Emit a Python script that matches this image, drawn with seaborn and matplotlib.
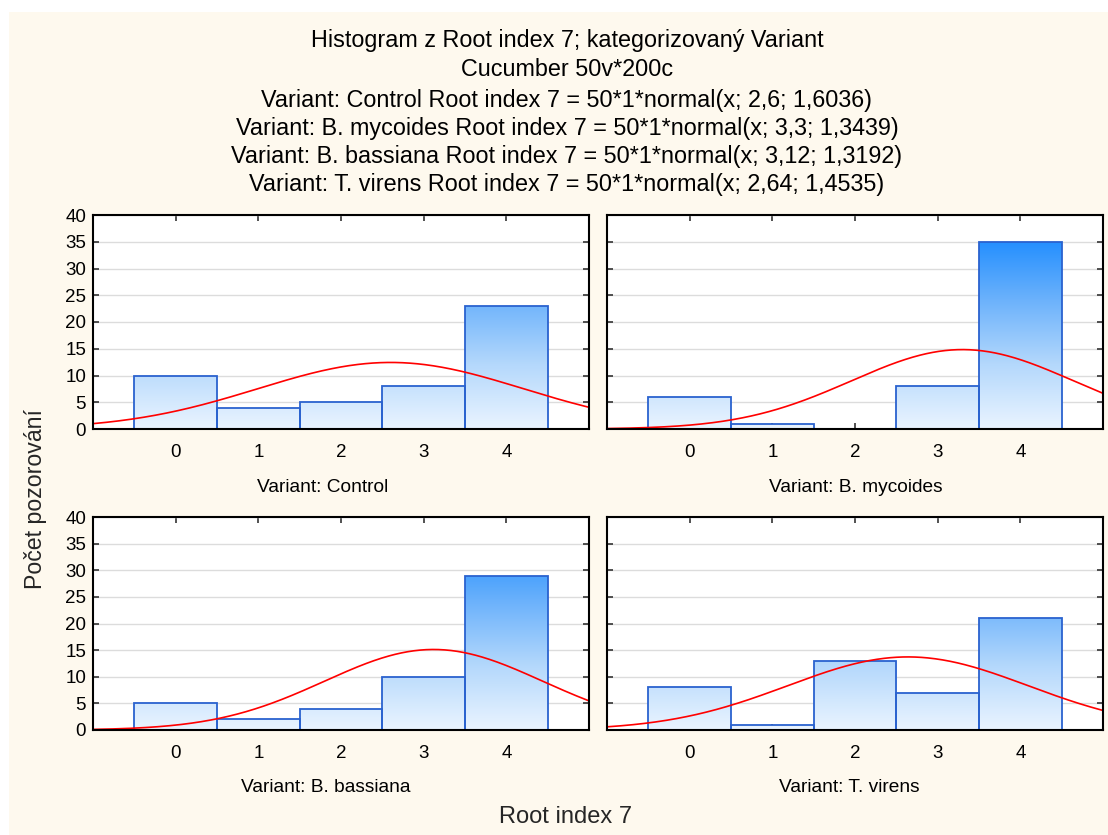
import numpy as np
import pandas as pd
import matplotlib
matplotlib.use("Agg")
import matplotlib.pyplot as plt
from matplotlib.colors import LinearSegmentedColormap, Normalize
from matplotlib.patches import Rectangle
import seaborn as sns

# --- data -------------------------------------------------------------
variants = ["Control", "B. mycoides", "B. bassiana", "T. virens"]
root_index = [0, 1, 2, 3, 4]
counts_control = [10, 4, 5, 8, 23]
counts_mycoides = [6, 1, 0, 8, 35]
counts_bassiana = [5, 2, 4, 10, 29]
counts_virens = [8, 1, 13, 7, 21]
fit_mean = [2.6, 3.3, 3.12, 2.64]
fit_sd = [1.6036, 1.3439, 1.3192, 1.4535]
fit_n = 50
y_ticks = [0, 5, 10, 15, 20, 25, 30, 35, 40]

title_lines = [
    "Histogram z Root index 7; kategorizovaný Variant",
    "Cucumber 50v*200c",
    "Variant: Control Root index 7 = 50*1*normal(x; 2,6; 1,6036)",
    "Variant: B. mycoides Root index 7 = 50*1*normal(x; 3,3; 1,3439)",
    "Variant: B. bassiana Root index 7 = 50*1*normal(x; 3,12; 1,3192)",
    "Variant: T. virens Root index 7 = 50*1*normal(x; 2,64; 1,4535)",
]

all_counts = [counts_control, counts_mycoides, counts_bassiana, counts_virens]
df = pd.DataFrame(
    [(v, r, c) for v, cs in zip(variants, all_counts) for r, c in zip(root_index, cs)],
    columns=["Variant", "Root index 7", "count"],
)

# --- style ------------------------------------------------------------
sns.set_theme(style="white")
plt.rcParams["font.family"] = ["Liberation Sans", "DejaVu Sans"]

W, H = 1108, 835
fig = plt.figure(figsize=(W / 100, H / 100), dpi=100)
fig.patch.set_facecolor("white")
fig.patches.append(Rectangle((9 / W, 0), 1 - 9 / W, 1 - 12 / H,
                             transform=fig.transFigure, facecolor="#fef9ee",
                             edgecolor="none", zorder=-10))

def px_box(l, r, t, b):
    return [l / W, 1 - b / H, (r - l) / W, (b - t) / H]

boxes = [
    px_box(93, 589, 215, 429),
    px_box(607, 1103, 215, 429),
    px_box(93, 589, 517, 730),
    px_box(607, 1103, 517, 730),
]
label_pos = [(323, 488), (856, 488), (326, 788), (849, 788)]

cmap = LinearSegmentedColormap.from_list("bar_grad", ["#eaf4ff", "#b4d8fc", "#6cb2fb", "#1e8cff"])
norm = Normalize(vmin=0, vmax=36)
edge = "#2a62cf"

xs = np.linspace(-1, 5, 400)

for i, (var, box) in enumerate(zip(variants, boxes)):
    ax = fig.add_axes(box)
    ax.set_facecolor("white")
    sub = df[df["Variant"] == var]
    sns.histplot(data=sub, x="Root index 7", weights="count", discrete=True,
                 fill=False, color=edge, linewidth=1.3, ax=ax, zorder=3)
    # vertical gradient fill inside every bar
    grad = np.linspace(0, 40, 400).reshape(-1, 1)
    for p in ax.patches:
        x0 = p.get_x()
        w = p.get_width()
        h = p.get_height()
        if h <= 0:
            continue
        im = ax.imshow(grad, extent=(x0, x0 + w, 0, 40), origin="lower",
                       aspect="auto", cmap=cmap, norm=norm, zorder=2,
                       interpolation="bilinear")
        im.set_clip_path(p)
    # fitted normal curve
    pdf = fit_n * np.exp(-0.5 * ((xs - fit_mean[i]) / fit_sd[i]) ** 2) / (fit_sd[i] * np.sqrt(2 * np.pi))
    sns.lineplot(x=xs, y=pdf, color="red", linewidth=1.2, ax=ax, zorder=4)

    ax.set_xlim(-1, 5)
    ax.set_ylim(0, 40)
    ax.set_xticks(root_index)
    ax.set_yticks(y_ticks)
    ax.set_xlabel("")
    ax.set_ylabel("")
    ax.yaxis.grid(True, color="#dcdcdc", linewidth=1.0, zorder=0)
    ax.set_axisbelow(True)
    ax.tick_params(direction="in", length=4, width=1.2, color="#333333",
                   top=True, right=True, bottom=True, left=True,
                   labelsize=13.5, labelcolor="black", pad=11)
    ax.tick_params(axis="y", pad=5)
    if i % 2 == 1:
        ax.tick_params(axis="y", labelleft=False)
    for s in ax.spines.values():
        s.set_visible(True)
        s.set_color("black")
        s.set_linewidth(1.5)
        s.set_zorder(5)
    lx, ly = label_pos[i]
    fig.text(lx / W, 1 - ly / H, f"Variant: {var}", ha="center", va="center",
             fontsize=13.8, color="black")

# titles
title_y = [40, 69, 101, 129, 156, 184]
for t, y in zip(title_lines, title_y):
    fig.text(567 / W, 1 - y / H, t, ha="center", va="center", fontsize=16.8, color="black")

fig.text(566 / W, 1 - 817 / H, "Root index 7", ha="center", va="center", fontsize=17)
fig.text(36 / W, 1 - 499 / H, "Počet pozorování", ha="center", va="center",
         rotation=90, fontsize=16.7)

fig.savefig("out.png", dpi=100, facecolor=fig.get_facecolor())
